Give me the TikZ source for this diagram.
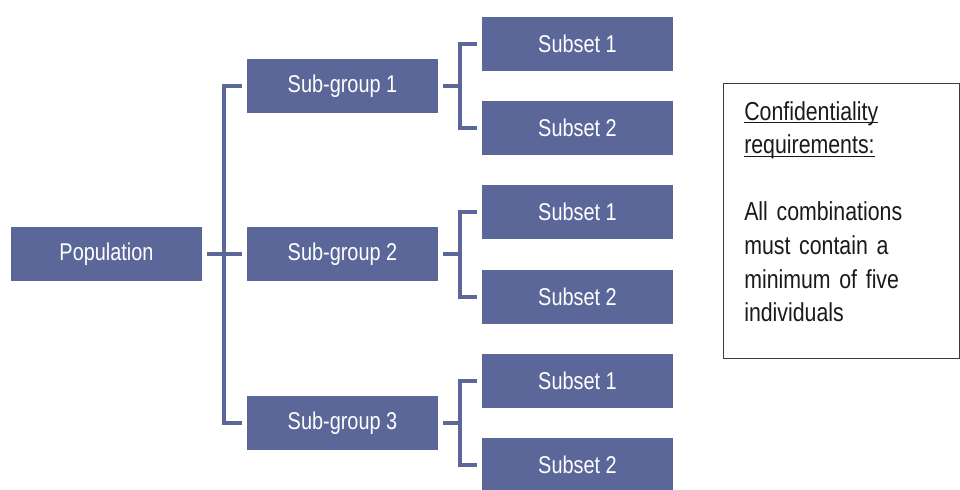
\documentclass[tikz,border=0pt]{standalone}
\usepackage{fontspec}
\setmainfont{Liberation Sans}[FakeStretch=0.82]
\usetikzlibrary{positioning}
\definecolor{slate}{HTML}{5A6798}
\definecolor{dark}{HTML}{1A1A1A}
% underline close to the baseline
\newcommand\ulword[1]{\leavevmode\setbox0\hbox{#1}\rlap{\rule[-2.4pt]{\wd0}{0.8pt}}\box0}
\tikzset{
    % Filled box for every level of the tree
    group/.style={
        rectangle,
        minimum width=143.25pt,
        minimum height=40.5pt,
        inner sep=0pt,
        fill=slate,
        draw=none,
        text=white,
        font=\fontsize{18.2}{21}\selectfont
    },
    % Square bracket between levels
    bracket/.style={
        line width=3pt,
        draw=slate,
        shorten <=3.75pt,
        shorten >=3.75pt
    },
    % Framed note on the right
    note/.style={
        rectangle,
        minimum width=177pt,
        minimum height=206.25pt,
        draw=dark!85,
        line width=0.8pt,
        fill=white
    },
    note text/.style={
        inner sep=0pt,
        align=left,
        text width=160pt,
        text=dark,
        font=\fontsize{19.5}{25.2}\selectfont
    }
}

\begin{document}
\begin{tikzpicture}[x=0.75pt, y=-0.75pt]
        \useasboundingbox (0,0) rectangle (960,489);

        % Top level
        \node[group] (pop) at (106.5, 254) {Population};

        % Sub-groups
        \node[group] (sg1) at (342.5, 86) {Sub-group 1};
        \node[group] (sg2) at (342.5, 254) {Sub-group 2};
        \node[group] (sg3) at (342.5, 423) {Sub-group 3};

        % Subsets
        \node[group] (s1a) at (577.5, 44) {Subset 1};
        \node[group] (s1b) at (577.5, 128) {Subset 2};
        \node[group] (s2a) at (577.5, 212) {Subset 1};
        \node[group] (s2b) at (577.5, 297) {Subset 2};
        \node[group] (s3a) at (577.5, 381) {Subset 1};
        \node[group] (s3b) at (577.5, 465) {Subset 2};

        % Brackets
        \draw[bracket] (pop.east) -- (sg2.west);
        \draw[bracket] (sg1.west) -- ++(-23,0) |- (sg3.west);
        \foreach \g/\a/\b in {sg1/s1a/s1b, sg2/s2a/s2b, sg3/s3a/s3b}{
            \draw[bracket, shorten >=0pt] (\g.east) -- ++(22,0);
            \draw[bracket] (\a.west) -- ++(-22,0) |- (\b.west);
        }

        % Note
        \node[note, anchor=north west] (note) at (723, 83) {};
        \node[note text, anchor=north west] (notetxt) at (744, 101)
            {\ulword{Confidentiality}\\\ulword{requirements:}\\[25.2pt]
             All combinations\\must contain a\\minimum of five\\individuals};

    \end{tikzpicture}
\end{document}
